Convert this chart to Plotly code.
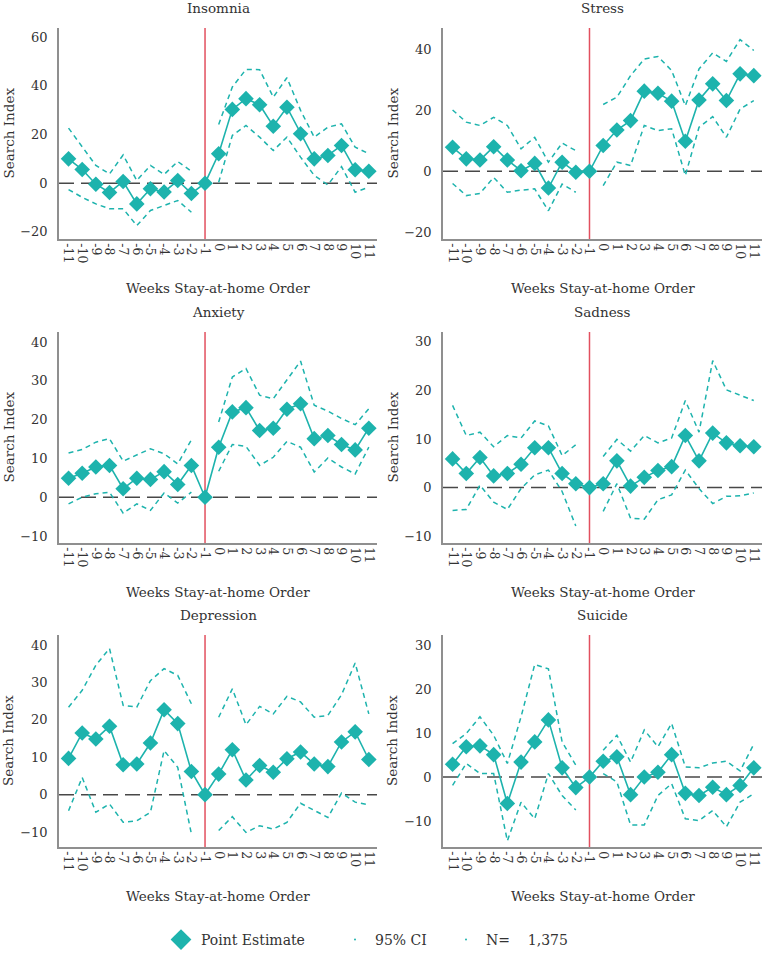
import plotly.graph_objects as go
from plotly.subplots import make_subplots

weeks = list(range(-11, 12))
week_labels = [str(w) for w in weeks]

panel_titles = ["Insomnia", "Stress", "Anxiety", "Sadness", "Depression", "Suicide"]

insomnia_est = [10.0, 5.6, -0.4, -3.8, 0.7, -8.5, -2.3, -3.6, 1.1, -4.2, 0, 12.1, 30.3, 34.7, 32.2, 23.4, 31.2, 20.3, 10.0, 11.4, 15.5, 5.5, 4.9]
insomnia_hi = [22.6, 14.8, 7.3, 3.8, 11.6, 1.1, 7.3, 3.6, 8.9, 4.9, None, 24.1, 39.5, 46.7, 46.6, 35.3, 43.3, 29.9, 18.9, 23.0, 24.4, 14.8, 12.1]
insomnia_lo = [-2.6, -5.8, -8.5, -10.5, -10.5, -17.4, -11.2, -9.2, -7.1, -11.9, None, 0.4, 19.6, 23.7, 18.9, 13.4, 18.9, 10.7, 3.2, -0.7, 6.8, -3.7, -1.6]

stress_est = [7.9, 4.1, 3.7, 8.1, 3.7, 0.2, 2.6, -5.5, 3.0, -0.3, 0, 8.5, 13.6, 16.7, 26.4, 25.7, 23.1, 9.9, 23.5, 28.8, 23.3, 32.1, 31.5]
stress_hi = [20.2, 16.2, 15.1, 17.8, 15.1, 7.4, 11.2, 3.0, 9.3, 6.8, None, 22.0, 24.4, 31.5, 37.0, 37.8, 33.2, 21.6, 33.7, 39.0, 36.2, 43.4, 39.8]
stress_lo = [-4.0, -8.0, -7.3, -2.0, -6.9, -6.2, -5.8, -13.0, -4.2, -6.9, None, -4.7, 3.0, 1.9, 15.1, 13.4, 14.0, -1.4, 14.5, 18.0, 11.2, 20.5, 23.3]

anxiety_est = [4.9, 6.2, 7.8, 8.2, 2.2, 4.9, 4.6, 6.6, 3.3, 8.2, 0, 12.9, 22.0, 23.1, 17.2, 17.8, 22.7, 24.1, 15.1, 15.9, 13.6, 12.2, 17.8]
anxiety_hi = [11.4, 12.3, 14.2, 15.1, 9.3, 11.0, 12.5, 11.2, 8.6, 14.8, None, 19.4, 31.0, 33.2, 26.3, 25.4, 30.2, 35.1, 23.7, 22.2, 20.3, 18.7, 22.8]
anxiety_lo = [-1.7, 0.0, 0.9, 1.3, -4.1, -1.7, -3.4, 1.1, -1.5, 1.3, None, 6.7, 13.6, 13.1, 8.2, 10.3, 14.4, 12.9, 6.5, 10.1, 7.8, 6.0, 12.9]

sadness_est = [5.9, 2.9, 6.2, 2.4, 2.9, 4.8, 8.2, 8.2, 2.9, 0.8, 0, 0.8, 5.5, 0.3, 2.1, 3.5, 4.3, 10.7, 5.5, 11.2, 9.2, 8.6, 8.4]
sadness_hi = [16.9, 10.7, 11.4, 8.4, 10.7, 10.2, 13.7, 12.7, 6.6, 8.8, None, 6.4, 9.9, 7.5, 10.7, 9.2, 10.2, 17.9, 11.4, 26.1, 20.1, 19.0, 17.9]
sadness_lo = [-4.7, -4.5, 0.5, -3.0, -4.5, -0.2, 2.6, 3.6, -0.8, -7.9, None, -4.9, 0.8, -6.3, -6.5, -2.5, -1.5, 3.6, -0.2, -3.3, -1.8, -1.7, -1.1]

depression_est = [9.7, 16.5, 14.9, 18.3, 8.0, 8.2, 13.8, 22.7, 19.0, 6.2, 0, 5.5, 12.0, 3.9, 7.8, 6.0, 9.6, 11.4, 8.2, 7.5, 14.1, 16.8, 9.4]
depression_hi = [23.4, 27.9, 34.6, 39.1, 23.9, 23.4, 30.5, 33.7, 31.9, 24.3, None, 20.7, 28.3, 18.7, 23.6, 21.6, 26.3, 24.8, 20.7, 21.2, 26.7, 35.2, 21.6]
depression_lo = [-4.3, 4.6, -4.7, -2.5, -7.4, -7.0, -4.7, 11.8, 7.3, -10.5, None, -9.6, -5.9, -10.1, -8.3, -9.2, -7.4, -2.3, -4.3, -6.1, 0.4, -2.0, -2.7]

suicide_est = [2.9, 6.9, 7.1, 5.1, -6.0, 3.4, 8.0, 13.0, 2.1, -2.4, 0, 3.6, 4.6, -4.0, 0, 1.1, 5.1, -3.7, -4.2, -2.3, -4.0, -1.9, 2.1]
suicide_hi = [7.6, 9.9, 13.7, 9.5, 3.1, 13.7, 25.6, 24.6, 8.0, 2.7, None, 6.1, 9.5, 3.4, 10.7, 6.9, 12.2, 2.3, 2.1, 3.2, 3.6, 1.4, 7.5]
suicide_lo = [-1.9, 3.1, 0.8, 0.8, -14.5, -5.7, -9.5, 0.8, -4.2, -7.5, None, 0.8, -1.1, -10.9, -10.9, -4.2, -1.5, -9.5, -9.9, -7.6, -11.3, -5.7, -3.8]

y_tickvals = [
    [-20, 0, 20, 40, 60],
    [-20, 0, 20, 40],
    [-10, 0, 10, 20, 30, 40],
    [-10, 0, 10, 20, 30],
    [-10, 0, 10, 20, 30, 40],
    [-10, 0, 10, 20, 30],
]

series = [
    (insomnia_est, insomnia_lo, insomnia_hi),
    (stress_est, stress_lo, stress_hi),
    (anxiety_est, anxiety_lo, anxiety_hi),
    (sadness_est, sadness_lo, sadness_hi),
    (depression_est, depression_lo, depression_hi),
    (suicide_est, suicide_lo, suicide_hi),
]

# ---- style / layout ----
W, H = 764, 956
FONT = "DejaVu Serif"
TEAL = "#1db3ad"
RED = "#e2505f"
AXIS = "#8f8f8f"
TXT = "#333333"
y_ranges = [[-22.9, 63.7], [-22.3, 47.2], [-11.8, 42.6], [-11.4, 32.0], [-14.0, 42.7], [-15.9, 32.3]]
col_px = [(59, 377), (443, 762)]
row_px = [(28, 239), (332, 543), (635, 847)]

fig = make_subplots(rows=3, cols=2)

for i, (est, lo, hi) in enumerate(series):
    r, c = i // 2 + 1, i % 2 + 1
    for ci in (hi, lo):
        fig.add_trace(go.Scatter(x=weeks, y=ci, mode="lines", showlegend=False,
                                 line=dict(color=TEAL, width=1.5, dash="5px,4px"),
                                 connectgaps=False, hoverinfo="skip"), row=r, col=c)
    fig.add_trace(go.Scatter(x=weeks, y=est, mode="lines+markers", showlegend=False,
                             line=dict(color=TEAL, width=1.6),
                             marker=dict(symbol="diamond", size=12, color=TEAL)), row=r, col=c)

# legend entries
fig.add_trace(go.Scatter(x=[None], y=[None], mode="markers", name="Point Estimate", legendwidth=129,
                         marker=dict(symbol="diamond", size=16, color=TEAL)))
fig.add_trace(go.Scatter(x=[None], y=[None], mode="markers", name="95% CI", legendwidth=66,
                         marker=dict(symbol="circle", size=2, color=TEAL)))
fig.add_trace(go.Scatter(x=[None], y=[None], mode="markers", name="N=\u00a0\u00a0\u00a0\u00a01,375",
                         marker=dict(symbol="circle", size=2, color=TEAL)))

annotations = []
shapes = []
for i in range(6):
    r, c = i // 2, i % 2
    n = i + 1
    xs = "" if n == 1 else str(n)
    x0, x1 = col_px[c]
    yt, yb = row_px[r]
    fig.layout["xaxis" + xs].update(
        domain=[x0 / W, x1 / W], range=[-11.7, 11.6],
        tickmode="array", tickvals=weeks, ticktext=week_labels, tickangle=90,
        showgrid=False, zeroline=False, showline=True, linecolor=AXIS, linewidth=1.5,
        ticks="", tickfont=dict(family=FONT, size=12.5, color=TXT), automargin=False)
    fig.layout["yaxis" + xs].update(
        domain=[1 - yb / H, 1 - yt / H], range=y_ranges[i],
        tickmode="array", tickvals=y_tickvals[i],
        showgrid=False, zeroline=False, showline=True, linecolor=AXIS, linewidth=1.5,
        ticks="", ticklabelstandoff=7,
        tickfont=dict(family=FONT, size=13, color=TXT), automargin=False)
    xc = (x0 + x1) / 2 / W
    annotations.append(dict(text=panel_titles[i], x=xc, y=1 - ((yt - 20) / H), xref="paper", yref="paper",
                            showarrow=False, xanchor="center", yanchor="middle",
                            font=dict(family=FONT, size=13.5, color=TXT)))
    annotations.append(dict(text="Weeks Stay-at-home Order", x=xc, y=1 - ((yb + 49) / H),
                            xref="paper", yref="paper", showarrow=False,
                            xanchor="center", yanchor="middle",
                            font=dict(family=FONT, size=13.5, color=TXT)))
    annotations.append(dict(text="Search Index", x=(x0 - 51) / W, y=1 - ((yt + yb) / 2 / H),
                            xref="paper", yref="paper", showarrow=False, textangle=-90,
                            xanchor="center", yanchor="middle",
                            font=dict(family=FONT, size=13.5, color=TXT)))
    xr = "x" + xs
    yr = "y" + xs
    shapes.append(dict(type="line", xref=xr + " domain", yref=yr, x0=0, x1=1, y0=0, y1=0,
                       line=dict(color="#484848", width=1.5, dash="15px,7px"), layer="below"))
    shapes.append(dict(type="line", xref=xr, yref=yr + " domain", x0=-1, x1=-1, y0=0, y1=1,
                       line=dict(color=RED, width=1.5), layer="below"))

fig.update_layout(
    width=W, height=H,
    margin=dict(l=0, r=0, t=0, b=0),
    paper_bgcolor="white", plot_bgcolor="white",
    font=dict(family=FONT, color=TXT),
    annotations=annotations, shapes=shapes,
    showlegend=True,
    legend=dict(orientation="h", x=161 / W, xanchor="left", y=16 / H, yanchor="middle",
                font=dict(family=FONT, size=14, color=TXT), itemsizing="trace"),
)

fig.write_html("out.html", config={"displayModeBar": False},
               post_script="document.body.style.margin='0px';document.body.style.overflow='hidden';")
